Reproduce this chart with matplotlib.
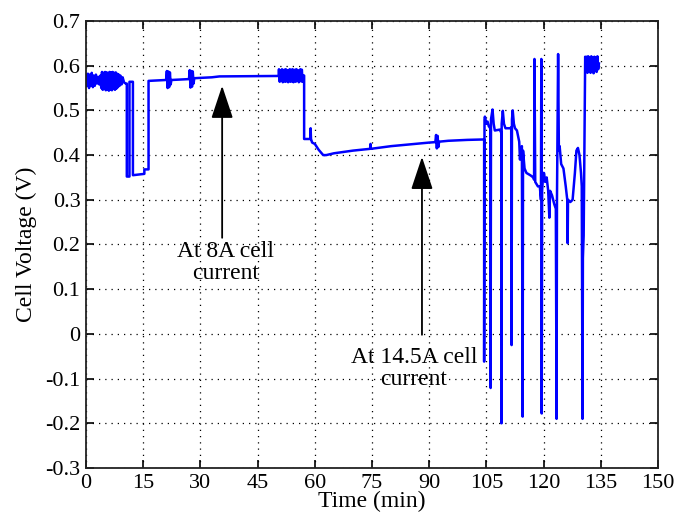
# Cell voltage vs time, redrawn from the reference figure

import matplotlib
matplotlib.use("Agg")
import matplotlib.pyplot as plt

# (time [min], cell voltage [V])
time_min = [
    0.0, 0.3, 0.5, 0.8, 1.0, 1.3, 1.5, 1.8, 2.0, 2.3, 2.6, 2.9, 3.2, 3.5, 3.8,
    4.0, 4.2, 4.4, 4.6, 4.8, 5.0, 5.2, 5.4, 5.6, 5.8, 6.0, 6.2, 6.4, 6.6, 6.8,
    7.0, 7.2, 7.4, 7.6, 7.8, 8.0, 8.2, 8.4, 8.6, 8.8, 9.0, 9.3, 9.6, 10.0, 10.5,
    10.7, 10.7, 11.4, 11.4, 12.3, 12.3, 15.3, 15.3, 16.4, 16.4,
    21.0, 21.2, 21.4, 21.6, 21.8, 22.0, 22.2, 22.4,
    27.0, 27.2, 27.4, 27.6, 27.8, 28.0, 28.2, 28.4,
    31.0, 33.0, 35.0, 50.5,
    50.6, 50.8, 51.0, 51.2, 51.4, 51.6, 51.8, 52.0, 52.2, 52.4, 52.6, 52.8,
    53.0, 53.2, 53.4, 53.6, 53.8, 54.0, 54.2, 54.4, 54.6, 54.8, 55.0, 55.2,
    55.4, 55.6, 55.8, 56.0, 56.2, 56.4, 56.6, 56.8, 57.0,
    57.2, 57.2, 58.9, 58.9, 59.0, 59.3, 60.0, 61.0, 62.2, 63.0, 65.0, 70.0,
    74.5, 74.6, 74.7, 80.0, 85.0, 90.0, 91.6,
    91.8, 92.0, 92.2, 92.4, 92.6, 95.0, 100.0, 104.3,
    104.4, 104.4, 104.5, 104.6, 105.0, 105.3, 105.6, 106.0, 106.1, 106.2, 106.6,
    106.9, 107.2, 108.5, 108.9, 108.95, 109.0, 109.3, 109.6, 110.0, 111.2,
    111.5, 111.6, 111.7, 111.9, 112.2, 112.5, 113.0, 113.6, 113.8, 114.0, 114.3,
    114.5, 114.6, 115.0, 115.5, 116.5, 117.3, 117.5, 117.6, 117.8, 118.5, 119.0,
    119.3, 119.4, 119.5, 119.6, 119.9, 120.1, 120.4, 120.8, 121.2, 121.5, 121.7,
    122.2, 122.8, 123.2, 123.4, 123.5, 123.8, 124.0, 124.2, 124.6, 125.2, 125.8,
    126.2, 126.3, 126.4, 127.0, 127.6, 128.2, 128.6, 129.0, 129.4, 129.8, 130.0,
    130.2, 130.3, 130.5, 130.9,
    131.1, 131.3, 131.5, 131.7, 131.9, 132.1, 132.3, 132.5, 132.7, 132.9, 133.1,
    133.3, 133.5, 133.7, 133.9, 134.1, 134.3, 134.5,
]
cell_voltage = [
    0.575, 0.555, 0.582, 0.550, 0.580, 0.556, 0.584, 0.552, 0.578, 0.555, 0.580,
    0.560, 0.575, 0.558, 0.578, 0.550, 0.586, 0.546, 0.584, 0.548, 0.586, 0.545,
    0.585, 0.546, 0.584, 0.544, 0.586, 0.546, 0.585, 0.545, 0.586, 0.548, 0.584,
    0.546, 0.585, 0.549, 0.582, 0.552, 0.580, 0.555, 0.578, 0.558, 0.574, 0.562,
    0.560,
    0.560, 0.352, 0.352, 0.564, 0.564, 0.355, 0.358, 0.368, 0.368, 0.566,
    0.568, 0.588, 0.550, 0.587, 0.552, 0.585, 0.558, 0.568,
    0.570, 0.590, 0.551, 0.588, 0.553, 0.587, 0.560, 0.572,
    0.573, 0.574, 0.576, 0.577,
    0.592, 0.564, 0.590, 0.566, 0.592, 0.563, 0.578, 0.591, 0.564, 0.592,
    0.565, 0.590, 0.563, 0.578, 0.592, 0.564, 0.591, 0.565, 0.592, 0.563,
    0.578, 0.591, 0.564, 0.592, 0.566, 0.590, 0.563, 0.577, 0.592, 0.565,
    0.591, 0.564, 0.578,
    0.578, 0.436, 0.436, 0.460, 0.436, 0.428, 0.425, 0.412, 0.400, 0.400,
    0.404, 0.410,
    0.414, 0.425, 0.414, 0.420, 0.424, 0.428, 0.429,
    0.445, 0.415, 0.443, 0.418, 0.430, 0.432, 0.434, 0.435,
    0.435, -0.062, 0.480, 0.486, 0.470, 0.475, 0.465, 0.460, -0.121, 0.480,
    0.502, 0.470, 0.455, 0.457, 0.450, -0.200, 0.470, 0.499, 0.470, 0.460,
    0.460, 0.462, -0.025, 0.480, 0.500, 0.470, 0.460, 0.455, 0.430, 0.390,
    0.410, 0.420, -0.185, 0.410, 0.370, 0.360, 0.355, 0.350, 0.345, 0.615,
    0.340, 0.330, 0.330, 0.300, 0.615, -0.178, 0.320, 0.360, 0.360, 0.340,
    0.350, 0.320, 0.260, 0.320, 0.310, 0.290, 0.280, -0.190, 0.300, 0.626,
    0.410, 0.420, 0.380, 0.370, 0.330, 0.300, 0.203, 0.300, 0.295, 0.300,
    0.360, 0.410, 0.416, 0.400, 0.360, 0.330, -0.190, 0.170, 0.220, 0.620,
    0.588, 0.620, 0.584, 0.621, 0.588, 0.618, 0.584, 0.621, 0.590, 0.619,
    0.583, 0.620, 0.588, 0.618, 0.586, 0.621, 0.592, 0.605,
]

x_ticks = [0, 15, 30, 45, 60, 75, 90, 105, 120, 135, 150]
y_ticks = [-0.3, -0.2, -0.1, 0, 0.1, 0.2, 0.3, 0.4, 0.5, 0.6, 0.7]
y_tick_labels = ["-0.3", "-0.2", "-0.1", "0", "0.1", "0.2", "0.3", "0.4", "0.5", "0.6", "0.7"]

plt.rcParams['font.family'] = ['Liberation Serif', 'DejaVu Serif']
plt.rcParams['font.size'] = 17

fig = plt.figure(figsize=(6.74, 5.18), dpi=100)
ax = fig.add_axes([0.1276, 0.0965, 0.8487, 0.863])

ax.plot(time_min, cell_voltage, color='#0000ff', lw=1.8)

ax.set_xlim(0, 150)
ax.set_ylim(-0.3, 0.7)
ax.set_xticks(x_ticks)
ax.set_yticks(y_ticks)
ax.set_yticklabels(y_tick_labels)
ax.tick_params(direction='in', top=True, right=True, length=6, width=1.2,
               labelsize=16, pad=4, colors='black')
ax.grid(True, color='black', linestyle=(0, (1, 4)), linewidth=0.9)
for s in ax.spines.values():
    s.set_linewidth(1.3)
    s.set_color('#222222')

ax.set_xlabel('Time (min)', fontsize=17, labelpad=-1)
ax.set_ylabel('Cell Voltage (V)', fontsize=17, labelpad=6)

arrow = dict(arrowstyle='-|>,head_length=1.2,head_width=0.4', color='black',
             lw=1.3, shrinkA=0, shrinkB=0)
ax.annotate('', xy=(35.7, 0.555), xytext=(35.7, 0.215), arrowprops=arrow)
ax.annotate('', xy=(88.1, 0.396), xytext=(88.1, -0.002), arrowprops=arrow)
ax.text(36.5, 0.16, 'At 8A cell\ncurrent', ha='center', va='center',
        fontsize=17, linespacing=1.05)
ax.text(86.0, -0.077, 'At 14.5A cell\ncurrent', ha='center', va='center',
        fontsize=17, linespacing=1.05)

fig.savefig('out.png', dpi=100)
